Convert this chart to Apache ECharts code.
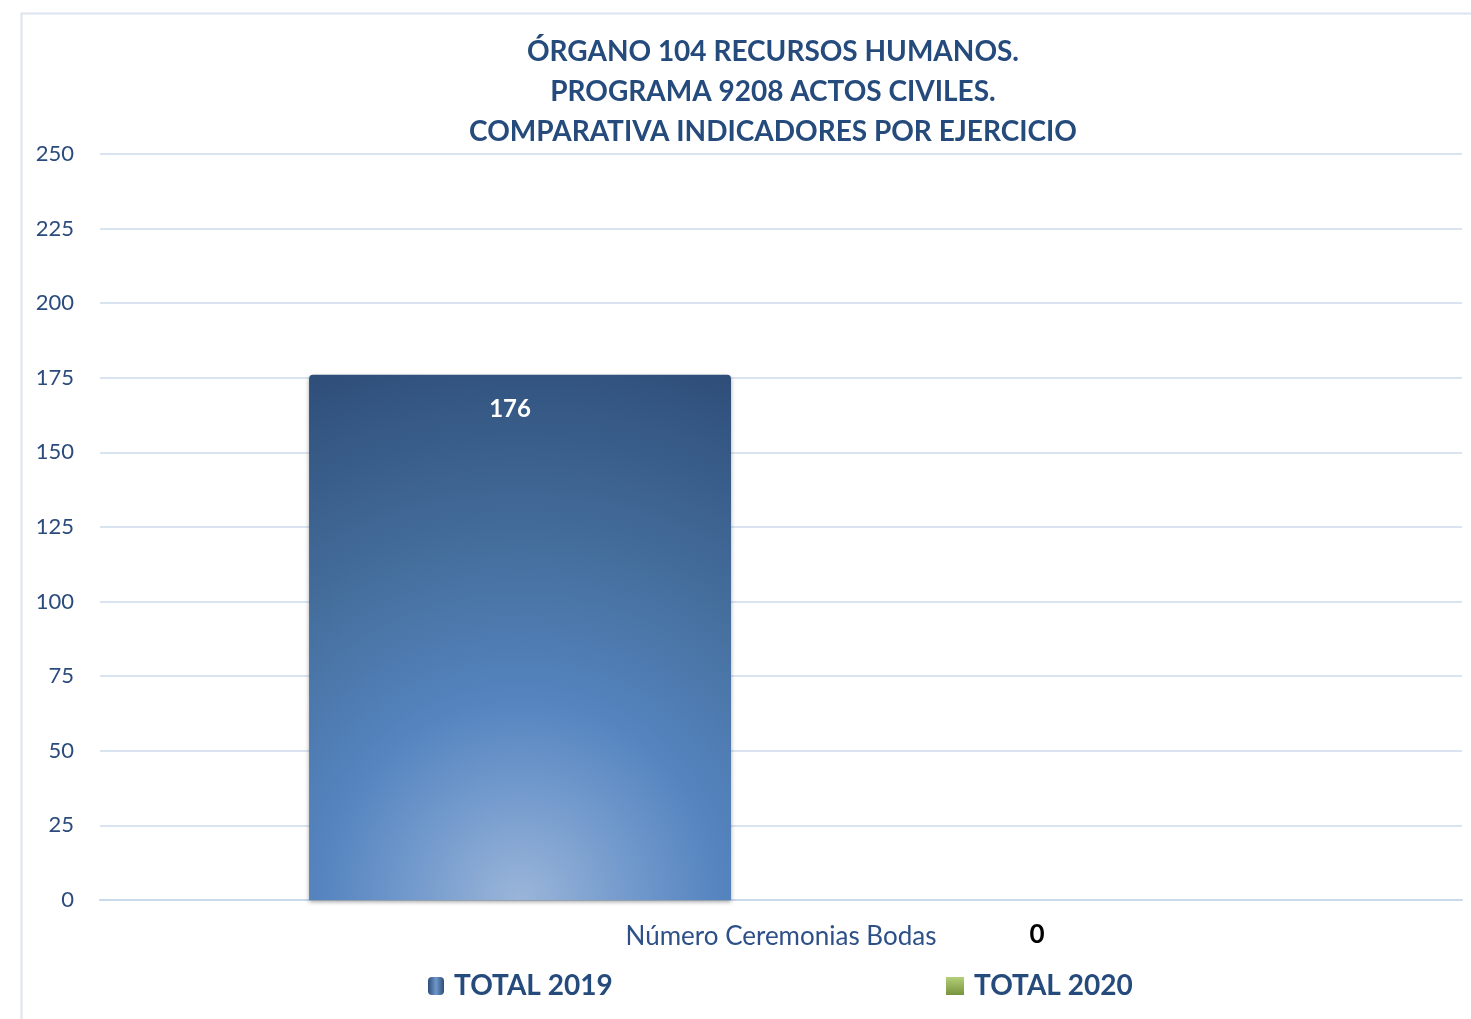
<!DOCTYPE html>
<html>
<head>
<meta charset="utf-8">
<script src="https://cdn.jsdelivr.net/npm/echarts@6/dist/echarts.min.js"></script>
<style>
html,body{margin:0;padding:0;background:#fff;}
#chart{width:1471px;height:1019px;}
</style>
</head>
<body>
<div id="chart"></div>
<script>
const titleLines = ['ÓRGANO 104 RECURSOS HUMANOS.', 'PROGRAMA 9208 ACTOS CIVILES.', 'COMPARATIVA INDICADORES POR EJERCICIO'];
const categories = ['Número Ceremonias Bodas'];
const seriesNames = ['TOTAL 2019', 'TOTAL 2020'];
const total2019 = [176];
const total2020 = [0];
const yTicks = { min: 0, max: 250, interval: 25 };

const FONT = 'Lato, "Open Sans", sans-serif';
const chart = echarts.init(document.getElementById('chart'));

const blueBar = {
  type: 'radial', x: 0.5, y: 1, r: 1.35,
  colorStops: [
    { offset: 0, color: '#9BB5D9' },
    { offset: 0.2, color: '#7199CC' },
    { offset: 0.35, color: '#5584BF' },
    { offset: 0.6, color: '#46709F' },
    { offset: 1, color: '#2E4D78' }
  ]
};
const greenBar = {
  type: 'linear', x: 0, y: 0, x2: 0, y2: 1,
  colorStops: [{ offset: 0, color: '#B3CF7A' }, { offset: 1, color: '#77933C' }]
};
const blueIcon = {
  type: 'linear', x: 0, y: 0, x2: 1, y2: 0,
  colorStops: [{ offset: 0, color: '#2E4D78' }, { offset: 0.5, color: '#6F98CB' }, { offset: 1, color: '#2E4D78' }]
};
const legendText = { fontFamily: FONT, fontSize: 28, fontWeight: 'bold', color: '#254A7C', padding: [0, 0, 0, 5] };

chart.setOption({
  animation: false,
  textStyle: { fontFamily: FONT },
  graphic: [{
    type: 'rect', left: 19, top: 11,
    shape: { width: 1500, height: 1100 },
    style: { fill: 'none', stroke: '#DCE4EF', lineWidth: 2 },
    silent: true
  }],
  title: {
    text: titleLines.join('\n'),
    left: 768, top: 27, textAlign: 'center',
    textStyle: { fontFamily: FONT, fontSize: 28, fontWeight: 'bold', color: '#254A7C', lineHeight: 40 }
  },
  grid: { left: 100, right: 9, top: 154, bottom: 119 },
  legend: [
    {
      data: [{ name: seriesNames[0], icon: 'roundRect', itemStyle: { color: blueIcon } }],
      left: 423, top: 967, itemWidth: 16, itemHeight: 18, itemGap: 8,
      textStyle: legendText
    },
    {
      data: [{ name: seriesNames[1], icon: 'rect' }],
      left: 941, top: 967, itemWidth: 18, itemHeight: 18, itemGap: 8,
      textStyle: legendText
    }
  ],
  xAxis: {
    type: 'category', data: categories,
    axisLine: { show: true, lineStyle: { color: '#C9D9EC', width: 2 } },
    axisTick: { show: false },
    axisLabel: { fontFamily: FONT, fontSize: 26, color: '#2E5088', margin: 24 }
  },
  yAxis: {
    type: 'value', min: yTicks.min, max: yTicks.max, interval: yTicks.interval,
    axisLine: { show: false }, axisTick: { show: false },
    splitLine: { lineStyle: { color: '#DAE4F0', width: 2 } },
    axisLabel: { fontFamily: FONT, fontSize: 22, color: '#2B4B7C', margin: 26 }
  },
  series: [
    {
      name: seriesNames[0], type: 'bar', data: total2019,
      barGap: '23.7%', barCategoryGap: '30.7%',
      itemStyle: { color: blueBar, borderRadius: [4, 4, 0, 0], shadowBlur: 4, shadowColor: 'rgba(0,0,0,0.35)', shadowOffsetY: 2 },
      label: { show: true, position: 'insideTop', distance: 22, offset: [-10, 0], fontFamily: FONT, fontSize: 24, fontWeight: 'bold', color: '#FFFFFF' }
    },
    {
      name: seriesNames[1], type: 'bar', data: total2020,
      itemStyle: { color: greenBar },
      label: { show: true, position: 'bottom', distance: 22, offset: [-5, 0], fontFamily: FONT, fontSize: 26, fontWeight: 'bold', color: '#000000' }
    }
  ]
});
</script>
</body>
</html>
